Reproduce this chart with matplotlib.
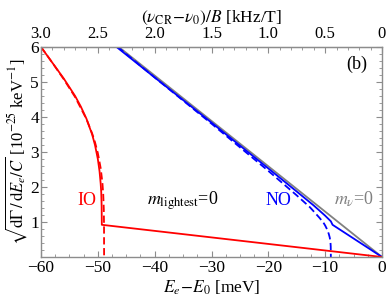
import matplotlib
matplotlib.use("Agg")
import matplotlib.pyplot as plt
from matplotlib.ticker import MultipleLocator, FixedLocator, FixedFormatter

plt.rcParams['font.family'] = ['Liberation Serif', 'DejaVu Serif']
plt.rcParams['mathtext.fontset'] = 'stix'

# gray: massless neutrino
gray_E = [-46.3, 0.0]
gray_y = [6.0, 0.0]

# blue: normal ordering, exact (solid) and effective mass (dashed)
no_E = [-46.7, -40.0, -30.0, -20.0, -15.0, -12.0, -10.0, -9.0, -8.7, 0.0]
no_y = [6.0, 5.13, 3.84, 2.53, 1.87, 1.47, 1.18, 1.02, 0.92, 0.0]
no_eff_E = [-46.5, -40.0, -30.0, -20.0, -15.0, -12.67, -12.0, -11.0, -10.3, -10.0,
            -9.6, -9.35, -9.2, -9.1, -9.05, -9.02, -9.0]
no_eff_y = [6.0, 5.13, 3.81, 2.46, 1.76, 1.42, 1.3, 1.12, 0.98, 0.9,
            0.77, 0.65, 0.56, 0.46, 0.38, 0.3, 0.0]

# red: inverted ordering, exact (solid) and effective mass (dashed)
io_E = [-60.0, -58.0, -56.0, -54.0, -53.0, -52.0, -51.0, -50.5, -50.0, -49.7,
        -49.5, -49.4, -49.33, -49.3, 0.0]
io_y = [6.0, 5.55, 5.1, 4.6, 4.3, 3.95, 3.5, 3.2, 2.8, 2.45,
        2.1, 1.85, 1.45, 0.92, 0.0]
io_eff_E = [-60.0, -58.0, -56.0, -54.0, -52.0, -51.0, -50.5, -50.0, -49.5, -49.2,
            -49.05, -48.95, -48.91, -48.9]
io_eff_y = [6.0, 5.55, 5.08, 4.57, 3.94, 3.53, 3.28, 2.97, 2.54, 2.13,
            1.79, 1.37, 0.9, 0.0]

x_ticks = [-60, -50, -40, -30, -20, -10, 0]
y_ticks = [1, 2, 3, 4, 5, 6]
top_ticks = [3.0, 2.5, 2.0, 1.5, 1.0, 0.5, 0.0]
top_labels = ["3.0", "2.5", "2.0", "1.5", "1.0", "0.5", "0"]

fig = plt.figure(figsize=(3.89, 3.05), dpi=100)
ax = fig.add_axes([41/389, 48/305, 341/389, 210/305])

ax.plot(gray_E, gray_y, color='#808080', lw=1.3)
ax.plot(no_E, no_y, color='#0000ff', lw=1.3)
ax.plot(no_eff_E, no_eff_y, color='#0000ff', lw=1.3, ls=(0, (4, 2)))
ax.plot(io_E, io_y, color='#ff0000', lw=1.3)
ax.plot(io_eff_E, io_eff_y, color='#ff0000', lw=1.3, ls=(0, (4, 2)))

ax.set_xlim(-60, 0)
ax.set_ylim(0, 6)

frame = '#8c8c8c'
for s in ax.spines.values():
    s.set_color(frame)
    s.set_linewidth(1.0)

ax.xaxis.set_major_locator(FixedLocator(x_ticks))
ax.xaxis.set_major_formatter(FixedFormatter(["\u2212" + str(abs(v)) if v else "0" for v in x_ticks]))
ax.xaxis.set_minor_locator(MultipleLocator(2.5))
ax.yaxis.set_major_locator(FixedLocator(y_ticks))
ax.yaxis.set_minor_locator(MultipleLocator(0.2))
ax.tick_params(which='both', direction='in', color=frame, labelsize=12.5, labelcolor='black', right=True)
ax.tick_params(which='major', length=4, width=0.8)
ax.tick_params(which='minor', length=2, width=0.6)
ax.tick_params(axis='x', pad=2)
ax.tick_params(axis='y', pad=1.5)

top = ax.secondary_xaxis('top', functions=(lambda e: -e / 20.0, lambda v: -20.0 * v))
top.xaxis.set_major_locator(FixedLocator(top_ticks))
top.xaxis.set_major_formatter(FixedFormatter(top_labels))
top.xaxis.set_minor_locator(MultipleLocator(0.1))
top.tick_params(which='both', direction='in', color=frame, labelsize=12, pad=3.5)
top.tick_params(which='major', length=4, width=0.8)
top.tick_params(which='minor', length=2, width=0.6)
top.spines['top'].set_color(frame)
top.set_xlabel(r'$(\nu_{\rm CR}\!-\!\nu_0)/B$ [kHz/T]', fontsize=12.5, labelpad=3)

ax.set_xlabel(r'$E_e\!-\!E_0$ [meV]', fontsize=12.5, labelpad=2)
ax.set_ylabel(r'$\sqrt{\mathrm{d}\mathit{\Gamma}\,/\,\mathrm{d}E_e/C}$ [10$^{-25}$ keV$^{-1}$]',
              fontsize=12, labelpad=1)

ax.text(-4.5, 5.5, '(b)', fontsize=13, ha='center', va='center')
ax.text(-52.0, 1.62, 'IO', color='#ff0000', fontsize=13, ha='center', va='center')
ax.text(-35.0, 1.62, r'$m_{\rm lightest}$=0', fontsize=13, ha='center', va='center')
ax.text(-18.3, 1.62, 'NO', color='#0000ff', fontsize=13, ha='center', va='center')
ax.text(-5.0, 1.65, r'$m_\nu$=0', color='#808080', fontsize=13, ha='center', va='center')

fig.savefig('out.png', dpi=100)
